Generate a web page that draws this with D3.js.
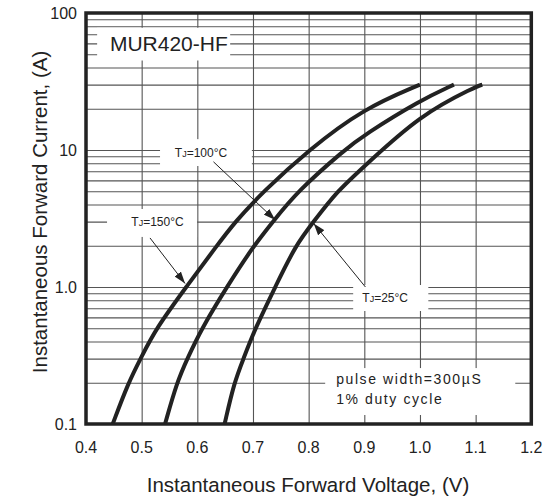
<!DOCTYPE html>
<html>
<head>
<meta charset="utf-8">
<script src="https://cdn.jsdelivr.net/npm/d3@7"></script>
<style>
  body { margin: 0; background: #fff; }
  text { font-family: "Liberation Sans", Arial, sans-serif; fill: #222; }
</style>
</head>
<body>
<div id="chart"></div>
<script>
// axis ticks
var xTicks = [0.4, 0.5, 0.6, 0.7, 0.8, 0.9, 1.0, 1.1, 1.2];
var yTicks = [0.1, 1, 10, 100];
var yTickLabels = ["0.1", "1.0", "10", "100"];

// forward voltage (V) / current (A)
var v150 = [0.448, 0.476, 0.498, 0.526, 0.580, 0.635, 0.668, 0.719, 0.800, 0.898, 1.000];
var i150 = [0.1, 0.2, 0.3, 0.5, 1.0, 2, 3, 5, 10, 20, 30];
var v100 = [0.542, 0.563, 0.582, 0.608, 0.653, 0.700, 0.736, 0.780, 0.864, 0.900, 1.000, 1.061];
var i100 = [0.1, 0.2, 0.3, 0.5, 1.0, 1.97, 3, 5, 10, 12.9, 23, 30];
var v25 = [0.649, 0.666, 0.683, 0.704, 0.740, 0.776, 0.809, 0.851, 0.900, 1.000, 1.100, 1.112];
var i25 = [0.1, 0.2, 0.3, 0.5, 1.0, 2, 3, 5, 7.6, 18, 29, 30];

var W = 544, H = 498;
var svg = d3.select("#chart").append("svg")
    .attr("width", W)
    .attr("height", H);

var x = d3.scaleLinear().domain([0.4, 1.2]).range([86, 531.3]);
var y = d3.scaleLog().domain([0.1, 100]).range([424, 13]);

// minor ticks of each decade for the grid
var yGrid = [];
[0.1, 1, 10].forEach(function(d) {
  for (var k = 1; k <= 10; k++) yGrid.push(d * k);
});

// grid
svg.append("g")
    .attr("transform", "translate(0,424)")
    .call(d3.axisBottom(x).tickValues(xTicks).tickSize(-411).tickFormat(""))
    .call(function(g) { g.select(".domain").remove(); })
    .selectAll("line").attr("stroke", "#555").attr("stroke-width", 1.1);

svg.append("g")
    .attr("transform", "translate(86,0)")
    .call(d3.axisLeft(y).tickValues(yGrid).tickSize(-445.3).tickFormat(""))
    .call(function(g) { g.select(".domain").remove(); })
    .selectAll("line").attr("stroke", "#555").attr("stroke-width", 1.1);

// white boxes behind the annotations  [v0, v1, iTop, iBottom]
var boxes = [
  [0.420, 0.659, 78, 45],
  [0.533, 0.698, 12.0, 7.64],
  [0.4378, 0.5995, 3.71, 2.32],
  [0.880, 1.015, 1.034, 0.668],
  [0.8297, 1.1712, 0.256, 0.1163]
];
svg.selectAll("rect.box")
    .data(boxes)
    .enter()
    .append("rect")
      .attr("class", "box")
      .attr("x", function(d) { return x(d[0]); })
      .attr("y", function(d) { return y(d[2]); })
      .attr("width", function(d) { return x(d[1]) - x(d[0]); })
      .attr("height", function(d) { return y(d[3]) - y(d[2]); })
      .attr("fill", "#fff");

// curves (smoothed through the read points)
var line = d3.line()
    .x(function(d) { return x(d[0]); })
    .y(function(d) { return y(d[1]); })
    .curve(d3.curveBasis);

[[v150, i150], [v100, i100], [v25, i25]].forEach(function(c) {
  svg.append("path")
      .datum(d3.zip(c[0], c[1]))
      .attr("d", line)
      .attr("fill", "none")
      .attr("stroke", "#222")
      .attr("stroke-width", 4);
});

// arrow head
svg.append("defs").append("marker")
    .attr("id", "head")
    .attr("viewBox", "0 0 12 8")
    .attr("refX", 12).attr("refY", 4)
    .attr("markerWidth", 12).attr("markerHeight", 8)
    .attr("markerUnits", "userSpaceOnUse")
    .attr("orient", "auto")
  .append("path")
    .attr("d", "M0,0L12,4L0,8Z")
    .attr("fill", "#222");

var arrows = [
  [0.629, 8.2, 0.740, 3.08],
  [0.515, 2.28, 0.578, 1.06],
  [0.902, 1.0, 0.809, 2.91]
];
svg.selectAll("line.arrow")
    .data(arrows)
    .enter()
    .append("line")
      .attr("x1", function(d) { return x(d[0]); })
      .attr("y1", function(d) { return y(d[1]); })
      .attr("x2", function(d) { return x(d[2]); })
      .attr("y2", function(d) { return y(d[3]); })
      .attr("stroke", "#222")
      .attr("stroke-width", 1)
      .attr("marker-end", "url(#head)");

// TJ labels
var tjLabels = [
  ["100°C", 0.6066, 8.9],
  ["150°C", 0.5285, 2.79],
  ["25°C", 0.9375, 0.778]
];
tjLabels.forEach(function(d) {
  var t = svg.append("text")
      .attr("x", x(d[1]))
      .attr("y", y(d[2]))
      .attr("text-anchor", "middle")
      .style("font-size", "12px");
  t.append("tspan").text("T");
  t.append("tspan").style("font-size", "9px").text("J");
  t.append("tspan").text("=" + d[0]);
});

// part number
svg.append("text")
    .attr("x", x(0.443))
    .attr("y", y(52.8))
    .style("font-size", "21px")
    .text("MUR420-HF");

// test conditions
svg.append("text")
    .attr("x", x(0.8494))
    .attr("y", y(0.196))
    .style("font-size", "14px")
    .style("letter-spacing", "1.6px")
    .text("pulse width=300µS");
svg.append("text")
    .attr("x", x(0.8494))
    .attr("y", y(0.140))
    .style("font-size", "14px")
    .style("letter-spacing", "1.6px")
    .text("1% duty cycle");

// tick labels
svg.selectAll("text.xl")
    .data(xTicks)
    .enter()
    .append("text")
      .attr("x", function(d) { return x(d); })
      .attr("y", 453)
      .attr("text-anchor", "middle")
      .style("font-size", "16px")
      .text(function(d) { return d3.format(".1f")(d); });

svg.selectAll("text.yl")
    .data(yTicks)
    .enter()
    .append("text")
      .attr("x", 77)
      .attr("y", function(d) { return y(d); })
      .attr("dy", "0.35em")
      .attr("text-anchor", "end")
      .style("font-size", "16px")
      .text(function(d, i) { return yTickLabels[i]; });

// frame
svg.append("rect")
    .attr("x", 86).attr("y", 13)
    .attr("width", 445.3).attr("height", 411)
    .attr("fill", "none")
    .attr("stroke", "#222")
    .attr("stroke-width", 3.5);

// axis titles
svg.append("text")
    .attr("x", 308).attr("y", 492)
    .attr("text-anchor", "middle")
    .style("font-size", "20.5px")
    .text("Instantaneous Forward Voltage, (V)");

svg.append("text")
    .attr("transform", "translate(47,212) rotate(-90)")
    .attr("text-anchor", "middle")
    .style("font-size", "20.5px")
    .text("Instantaneous Forward Current, (A)");
</script>
</body>
</html>
